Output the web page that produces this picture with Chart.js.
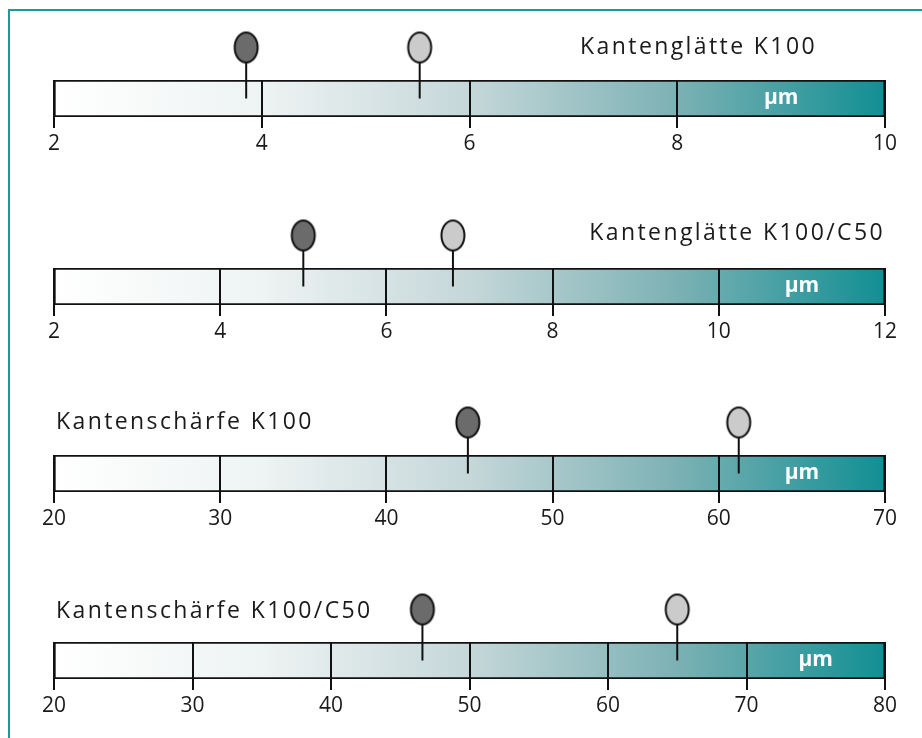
<!DOCTYPE html>
<html>
<head>
<meta charset="utf-8">
<script src="https://cdn.jsdelivr.net/npm/chart.js@4.4.1/dist/chart.umd.min.js"></script>
<style>
  body { margin: 0; background: #fff; width: 922px; height: 738px; overflow: hidden; position: relative; }
  #frame { position: absolute; left: 8px; top: 9px; right: 0; bottom: 0; border-top: 2px solid #1b9a9c; border-left: 2px solid #1b9a9c; }
  .gauge { position: absolute; left: 0; width: 922px; height: 160px; }
</style>
</head>
<body>
<div id="frame"></div>
<div class="gauge" style="top:0px"><canvas id="g0"></canvas></div>
<div class="gauge" style="top:188px"><canvas id="g1"></canvas></div>
<div class="gauge" style="top:375px"><canvas id="g2"></canvas></div>
<div class="gauge" style="top:562px"><canvas id="g3"></canvas></div>
<script>
// values
const titles = ['Kantenglätte K100', 'Kantenglätte K100/C50', 'Kantenschärfe K100', 'Kantenschärfe K100/C50'];
const unit = 'µm';
const scaleMin = [2, 2, 20, 20];
const scaleMax = [10, 12, 70, 80];
const tickStep = [2, 2, 10, 10];
const darkValues = [3.85, 5.0, 44.9, 46.6];
const lightValues = [5.52, 6.8, 61.2, 65.0];

// where each title sits relative to the bar
const titlePos = [
  {align: 'right', dx: -68, dy: -33},
  {align: 'right', dx: 0, dy: -35},
  {align: 'left', dx: 2, dy: -33},
  {align: 'left', dx: 2, dy: -31}
];

function makePin(fill) {
  var c = document.createElement('canvas');
  var w = 28, half = 70;
  c.width = w;
  c.height = half * 2;
  var g = c.getContext('2d');
  g.strokeStyle = '#111';
  g.lineWidth = 2;
  g.beginPath();
  g.moveTo(w / 2, half);
  g.lineTo(w / 2, half - 36);
  g.stroke();
  g.beginPath();
  g.ellipse(w / 2, half - 51, 11.5, 15, 0, 0, 2 * Math.PI);
  g.fillStyle = fill;
  g.fill();
  g.stroke();
  return c;
}

const darkPin = makePin('#6b6b6b');
const lightPin = makePin('#cbcbcb');

function barGradient(context) {
  var area = context.chart.chartArea;
  if (!area) return '#cfdfe0';
  var grad = context.chart.ctx.createLinearGradient(area.left, 0, area.right, 0);
  grad.addColorStop(0, '#ffffff');
  grad.addColorStop(0.25, '#eef3f3');
  grad.addColorStop(0.5, '#c5d7d9');
  grad.addColorStop(0.75, '#7cb1b4');
  grad.addColorStop(1, '#118f93');
  return grad;
}

const labelPlugin = {
  id: 'gaugeLabels',
  afterDraw(chart) {
    var i = chart.options.plugins.gaugeLabels.index;
    var ctx = chart.ctx;
    var area = chart.chartArea;
    var xs = chart.scales.x;
    var pos = titlePos[i];
    ctx.save();
    ctx.font = '23px "Open Sans"';
    ctx.letterSpacing = '2.4px';
    ctx.fillStyle = '#1a1a1a';
    ctx.textBaseline = 'middle';
    ctx.textAlign = pos.align;
    var tx = pos.align === 'right' ? area.right + pos.dx : area.left + pos.dx;
    ctx.fillText(titles[i], tx, area.top + pos.dy);
    // unit label in the last interval
    ctx.letterSpacing = '0px';
    ctx.font = 'bold 21px "Open Sans"';
    ctx.fillStyle = '#ffffff';
    ctx.textAlign = 'center';
    ctx.fillText(unit, xs.getPixelForValue(scaleMax[i] - tickStep[i] / 2), (area.top + area.bottom) / 2);
    ctx.restore();
  }
};

for (let i = 0; i < 4; i++) {
  new Chart(document.getElementById('g' + i), {
    type: 'bar',
    data: {
      labels: [unit],
      datasets: [
        {
          type: 'scatter',
          data: [{x: darkValues[i], y: unit}],
          pointStyle: darkPin,
          pointRadius: 5,
          clip: false,
          order: 0
        },
        {
          type: 'scatter',
          data: [{x: lightValues[i], y: unit}],
          pointStyle: lightPin,
          pointRadius: 5,
          clip: false,
          order: 0
        },
        {
          data: [[scaleMin[i], scaleMax[i]]],
          backgroundColor: barGradient,
          borderColor: '#111',
          borderWidth: 2,
          borderSkipped: false,
          barPercentage: 1,
          categoryPercentage: 1,
          order: 1
        }
      ]
    },
    options: {
      indexAxis: 'y',
      responsive: true,
      maintainAspectRatio: false,
      animation: false,
      events: [],
      layout: {padding: {left: 54, right: 37, top: 80, bottom: 0}},
      scales: {
        x: {
          type: 'linear',
          min: scaleMin[i],
          max: scaleMax[i],
          afterFit: function(scale) { scale.height = 43; },
          border: {display: false},
          grid: {
            z: 1,
            color: '#111',
            lineWidth: 2,
            drawTicks: true,
            tickLength: 11,
            tickColor: '#111',
            tickWidth: 2
          },
          ticks: {
            stepSize: tickStep[i],
            color: '#1a1a1a',
            padding: 3,
            maxRotation: 0,
            font: {family: '"Open Sans"', size: 21}
          }
        },
        y: {display: false}
      },
      plugins: {
        legend: {display: false},
        tooltip: {enabled: false},
        gaugeLabels: {index: i}
      }
    },
    plugins: [labelPlugin]
  });
}
</script>
</body>
</html>
